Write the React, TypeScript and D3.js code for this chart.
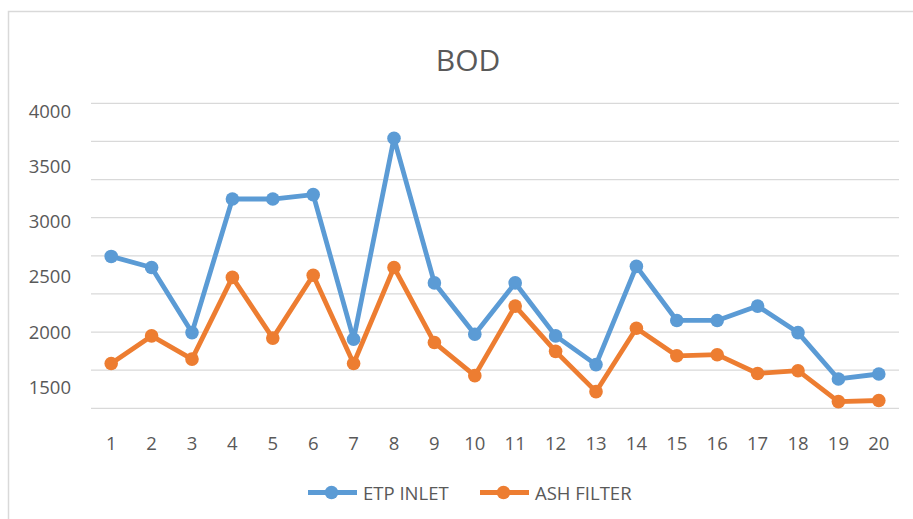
import React from "react";
import * as d3 from "d3";

const categories = ["1","2","3","4","5","6","7","8","9","10","11","12","13","14","15","16","17","18","19","20"];
const etpInlet = [2680, 2580, 1990, 3200, 3200, 3240, 1930, 3750, 2440, 1975, 2440, 1960, 1700, 2590, 2100, 2100, 2230, 1990, 1570, 1615];
const ashFilter = [1710, 1960, 1750, 2490, 1940, 2510, 1710, 2580, 1900, 1600, 2230, 1820, 1455, 2030, 1780, 1790, 1620, 1645, 1365, 1375];
const yTickLabels = [4000, 3500, 3000, 2500, 2000, 1500];
const gridSteps = d3.range(9);
const seriesNames = ["ETP INLET", "ASH FILTER"];
const colors = ["#5B9BD5", "#ED7D31"];

const W = 913;
const H = 519;
const FONT = "'Open Sans', 'DejaVu Sans', sans-serif";
const TEXT = "#595959";

export default function App() {
  const x = d3.scaleBand().domain(categories).range([91, 899]);
  const y = d3.scaleLinear().domain([1500, 4000]).range([386.7, 110.7]);
  const grid = d3.scaleLinear().domain([0, 8]).range([408.3, 103.3]);
  const line = d3
    .line<number>()
    .x((_, i) => (x(categories[i]) as number) + x.bandwidth() / 2)
    .y((d) => y(d));
  const series = [etpInlet, ashFilter];

  return (
    <svg
      width={W}
      height={H}
      style={{ position: "fixed", left: 0, top: 0, background: "#fff" }}
      fontFamily={FONT}
    >
      <rect x={0} y={0} width={W} height={H} fill="#fff" />
      <path d={`M8.5,${H} V11.5 H${W}`} fill="none" stroke="#D9D9D9" strokeWidth={1.5} />
      <text x={468} y={71} textAnchor="middle" fontSize={30} fill={TEXT}>
        BOD
      </text>
      {gridSteps.map((g) => (
        <line key={g} x1={91} x2={899} y1={grid(g)} y2={grid(g)} stroke="#D9D9D9" strokeWidth={1.3} />
      ))}
      {yTickLabels.map((t) => (
        <text key={t} x={71} y={y(t) + 7} textAnchor="end" fontSize={18.5} fill={TEXT}>
          {t}
        </text>
      ))}
      {categories.map((c) => (
        <text
          key={c}
          x={(x(c) as number) + x.bandwidth() / 2}
          y={450}
          textAnchor="middle"
          fontSize={18.5}
          fill={TEXT}
        >
          {c}
        </text>
      ))}
      {series.map((s, si) => (
        <g key={si}>
          <path d={line(s) || ""} fill="none" stroke={colors[si]} strokeWidth={4.8} strokeLinejoin="round" />
          {s.map((v, i) => (
            <circle
              key={i}
              cx={(x(categories[i]) as number) + x.bandwidth() / 2}
              cy={y(v)}
              r={6.8}
              fill={colors[si]}
            />
          ))}
        </g>
      ))}
      {seriesNames.map((n, i) => {
        const lx = i === 0 ? 308 : 480;
        return (
          <g key={n}>
            <line x1={lx} x2={lx + 49} y1={492.5} y2={492.5} stroke={colors[i]} strokeWidth={4.8} />
            <circle cx={lx + 23.5} cy={492.5} r={6.8} fill={colors[i]} />
            <text x={lx + 55} y={500} fontSize={18.5} fill={TEXT}>
              {n}
            </text>
          </g>
        );
      })}
    </svg>
  );
}
